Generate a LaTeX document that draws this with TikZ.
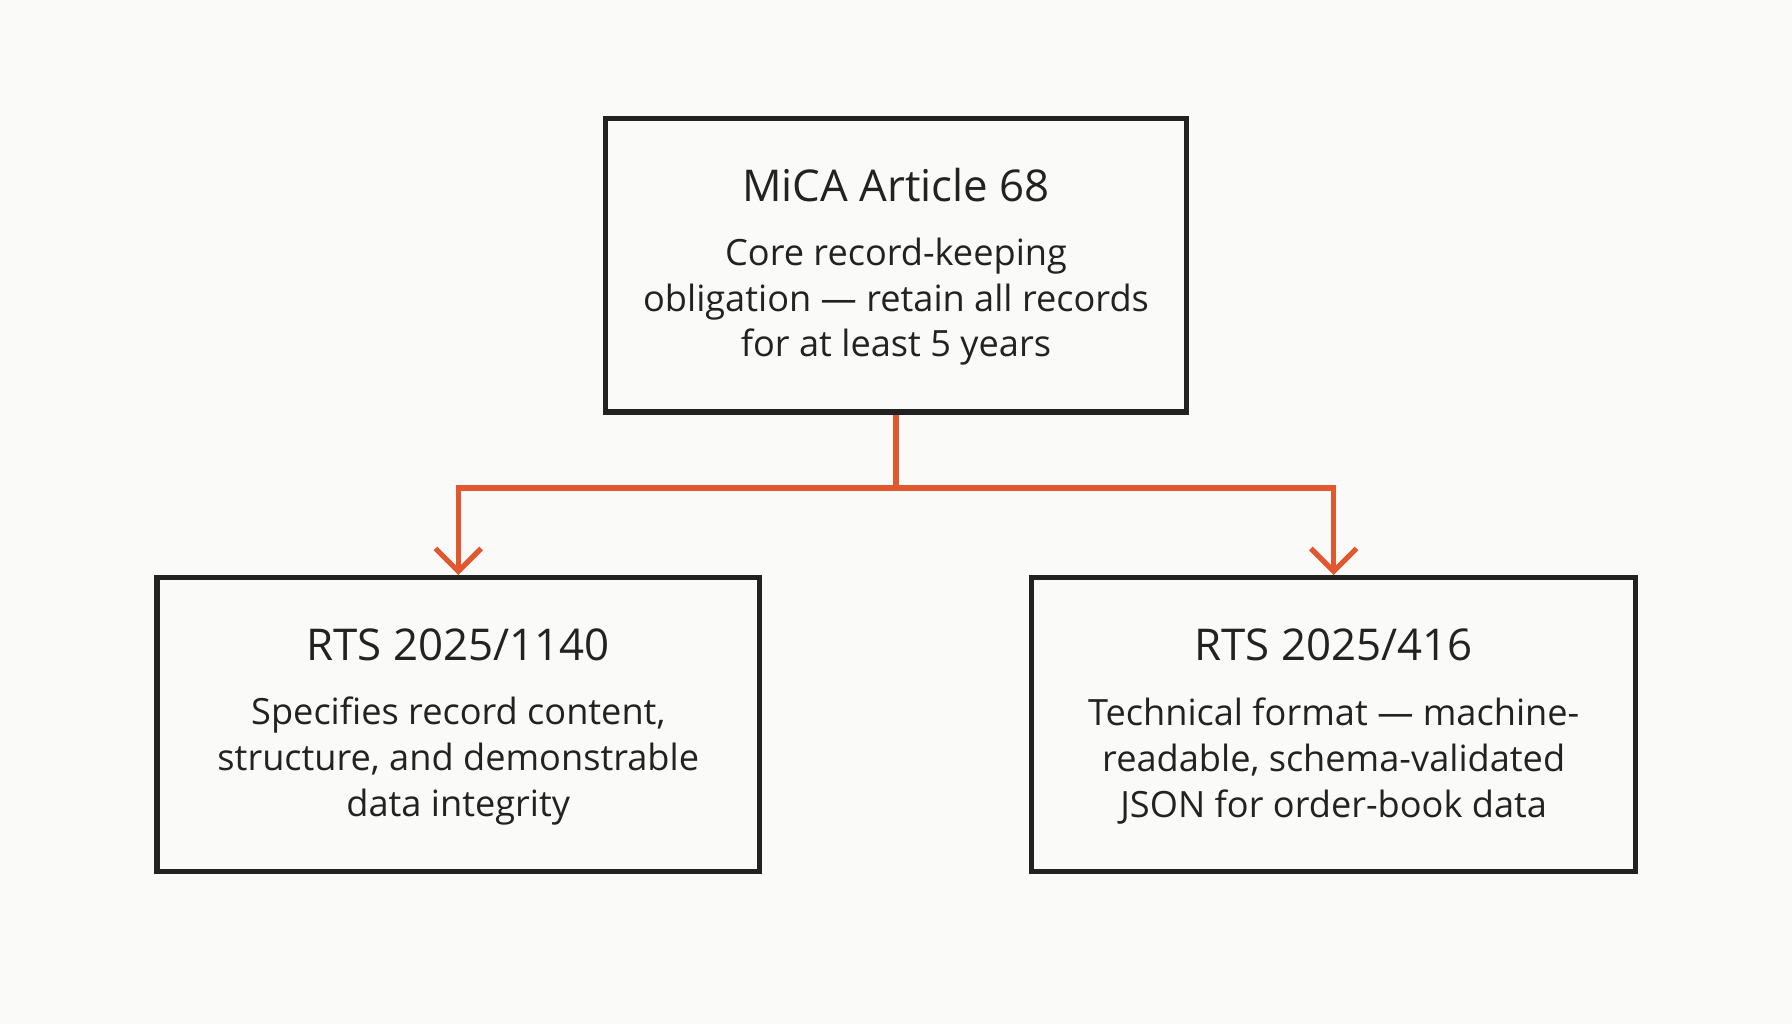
\documentclass[tikz,border=0pt]{standalone}
\usepackage{fontspec}
\setmainfont{Open Sans}
\usetikzlibrary{positioning,arrows.meta}
\definecolor{linkorange}{HTML}{E2582E}
\definecolor{boxline}{HTML}{222222}
\definecolor{paper}{HTML}{FAFAF9}
\begin{document}
\begin{tikzpicture}[x=0.01cm,y=-0.01cm,
  rulebox/.style={draw=boxline,line width=1.3pt,minimum width=5.1cm,minimum height=2.57cm,align=center,inner sep=0pt},
  boxtitle/.style={font=\fontsize{10.9}{12}\selectfont,text=boxline},
  boxtext/.style={font=\fontsize{9.0}{11.4}\selectfont,text=boxline,align=center},
  link/.style={draw=linkorange,line width=1.3pt},
  arrowlink/.style={link,-{Straight Barb[length=2mm,width=4mm,line width=1.3pt]}}]
\fill[paper] (0,0) rectangle (1568,896);
\useasboundingbox (0,0) rectangle (1568,896);
% boxes
\node[rulebox,minimum width=5.08cm] (mica) at (784,232) {};
\node[rulebox,minimum width=5.27cm] (rtsA) at (401,634) {};
\node[rulebox,minimum width=5.28cm] (rtsB) at (1167,634) {};
% texts
\node[boxtitle] at (784,162) {MiCA Article 68};
\node[boxtext] at (784,264) {Core record-keeping\\obligation — retain all records\\for at least 5 years};
\node[boxtitle] at (401,564) {RTS 2025/1140};
\node[boxtext] at (401,666) {Specifies record content,\\structure, and demonstrable\\data integrity};
\node[boxtitle] at (1167,564) {RTS 2025/416};
\node[boxtext] at (1167,666) {Technical format — machine-\\readable, schema-validated\\JSON for order-book data};
% connectors
\coordinate (split) at (784,427);
\draw[link] (mica.south) -- (split);
\draw[arrowlink] (split) -| (rtsA.north);
\draw[arrowlink] (split) -| (rtsB.north);
\end{tikzpicture}
\end{document}
